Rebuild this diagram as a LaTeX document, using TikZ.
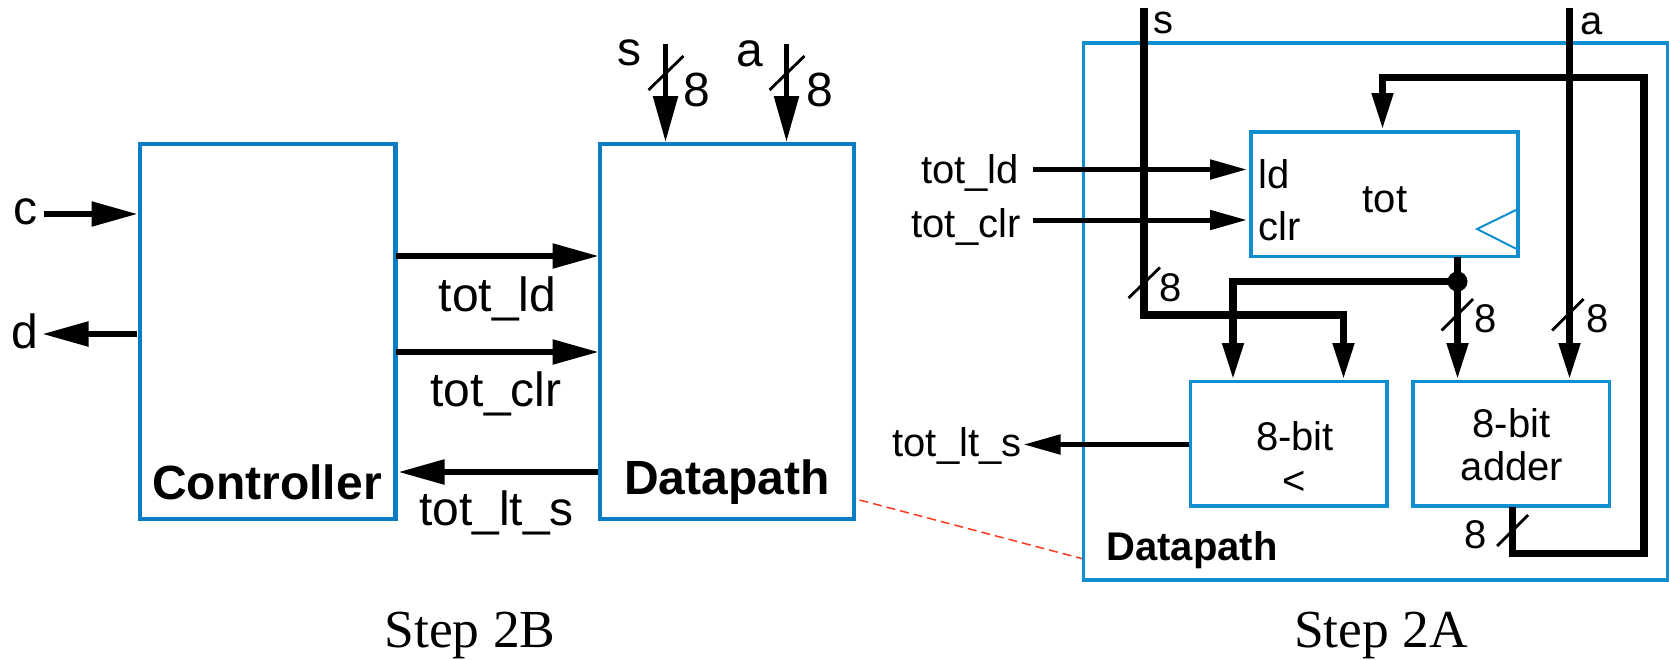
\documentclass[tikz,border=0pt]{standalone}
\usepackage{fontspec}
\setmainfont{Liberation Sans}
\newfontfamily\capfont{Liberation Serif}
\usetikzlibrary{arrows.meta}
\definecolor{bluebig}{HTML}{0A7DC4}
\definecolor{bluesmall}{HTML}{0F8FD0}
\definecolor{zoomred}{HTML}{FF3B1F}
\tikzset{
  x=1pt,y=-1pt,
  bigbox/.style={draw=bluebig,line width=4.4pt,inner sep=0pt,outer sep=0pt},
  smallbox/.style={draw=bluesmall,line width=3.5pt,inner sep=0pt,outer sep=0pt},
  lab/.style={inner sep=0pt,outer sep=0pt,font=\fontsize{48}{52}\selectfont},
  labb/.style={lab,font=\fontsize{48}{52}\selectfont\bfseries},
  slab/.style={inner sep=0pt,outer sep=0pt,font=\fontsize{40}{44}\selectfont},
  slabb/.style={slab,font=\fontsize{40}{44}\selectfont\bfseries},
  steplab/.style={inner sep=0pt,outer sep=0pt,font=\capfont\fontsize{53.5}{56}\selectfont},
  sig/.style={line width=5.5pt,-{Triangle[length=46pt,width=24pt]}},
  sigb/.style={line width=7.5pt,miter limit=10,-{Triangle[length=37pt,width=20pt]}},
  sigs/.style={line width=5pt,-{Triangle[length=37pt,width=19pt]}},
  busslash/.style={line width=2.8pt},
}
\begin{document}
\begin{tikzpicture}
\useasboundingbox (0,0) rectangle (1669,659);
% ---------- left: Step 2B ----------
\node[bigbox,minimum width=255.5pt,minimum height=375pt] (ctrl) at (267.75,331.5) {};
\node[bigbox,minimum width=254.5pt,minimum height=375pt] (dp) at (727,331.5) {};
\node[labb] (ctrltxt) at (267,482) {Controller};
\node[labb] (dptxt) at (727,482) {Datapath};
\node[lab] (cl) at (25,212) {c};
\node[lab] (dl) at (25,331) {d};
\node[lab] (sl) at (629,53) {s};
\node[lab] (al) at (750,54) {a};
\node[lab] (s8) at (697,90) {8};
\node[lab] (a8) at (820,90) {8};
\node[lab] (ldl) at (497.5,299) {tot\_ld};
\node[lab] (clrl) at (496,394) {tot\_clr};
\node[lab] (ltl) at (496.5,513) {tot\_lt\_s};
\node[steplab] (stepb) at (470,635) {Step 2B};
\coordinate (cs) at (44,214);
\coordinate (ce) at (137.5,214);
\coordinate (ds) at (137,334);
\coordinate (de) at (42.5,334);
\coordinate (ss) at (665.5,44);
\coordinate (se) at (665.5,142);
\coordinate (as) at (786.5,44);
\coordinate (ae) at (786.5,142);
\coordinate (lds) at (396,256);
\coordinate (lde) at (598.5,256);
\coordinate (clrs) at (396,352);
\coordinate (clre) at (598.5,352);
\coordinate (lts) at (597.5,472);
\coordinate (lte) at (398.5,472);
\draw[sig] (cs) -- (ce);
\draw[sig] (ds) -- (de);
\draw[sig] (ss) -- (se);
\draw[sig] (as) -- (ae);
\draw[sig] (lds) -- (lde);
\draw[sig] (clrs) -- (clre);
\draw[sig] (lts) -- (lte);
\coordinate (sa) at (648.5,90); \coordinate (sb) at (683.5,56);
\coordinate (aa) at (769.5,90); \coordinate (ab) at (804.5,56);
\draw[busslash] (sa) -- (sb);
\draw[busslash] (aa) -- (ab);
% ---------- zoom line ----------
\coordinate (za) at (859.5,500);
\coordinate (zb) at (1083.5,559);
\draw[zoomred,line width=1.5pt,dash pattern=on 9pt off 5pt] (za) -- (zb);
% ---------- right: Step 2A ----------
\node[smallbox,minimum width=584pt,minimum height=537pt] (outer) at (1375.5,311.5) {};
\node[smallbox,minimum width=267pt,minimum height=124.5pt] (tot) at (1384.25,194.25) {};
\node[smallbox,minimum width=196.5pt,minimum height=124.5pt] (lt) at (1288.75,443.75) {};
\node[smallbox,minimum width=196.5pt,minimum height=124.5pt] (add) at (1511,443.75) {};
\draw[bluesmall,line width=2pt] (1516,210) -- (1477,229) -- (1516,248.7);
\node[slab] (ldin) at (1274,174) {ld};
\node[slab] (clrin) at (1280,226) {clr};
\node[slab] (tottxt) at (1385,200) {tot};
\node[slab] (lt8) at (1295,436) {8-bit};
\node[slab] (ltop) at (1294,483) {<};
\node[slab] (add8) at (1511.5,423) {8-bit};
\node[slab] (addt) at (1512,466) {adder};
\node[slabb] (dptxtb) at (1192,550) {Datapath};
\node[slab] (rs) at (1163.5,23) {s};
\node[slab] (ra) at (1592,24) {a};
\node[slab] (rldl) at (970,173) {tot\_ld};
\node[slab] (rclrl) at (966,227) {tot\_clr};
\node[slab] (rltl) at (957,446) {tot\_lt\_s};
\node[slab] (n1) at (1171,288) {8};
\node[slab] (n2) at (1486,319) {8};
\node[slab] (n3) at (1597.5,319) {8};
\node[slab] (n4) at (1475.5,535) {8};
\node[steplab] (stepa) at (1381,635) {Step 2A};
\coordinate (rss) at (1144,7.5);
\coordinate (rsb) at (1144,315);
\coordinate (rsc) at (1343.5,315);
\coordinate (rse) at (1343.5,380);
\coordinate (ras) at (1569.5,7.5);
\coordinate (rae) at (1569.5,380);
\coordinate (fbs) at (1512.5,507);
\coordinate (fbb) at (1512.5,553.5);
\coordinate (fbc) at (1644,553.5);
\coordinate (fbd) at (1644,77.5);
\coordinate (fbf) at (1382.5,77.5);
\coordinate (fbe) at (1382.5,130);
\coordinate (outs) at (1457.5,257);
\coordinate (oute) at (1457.5,380);
\coordinate (bre) at (1233,380);
\coordinate (brc) at (1233,281.5);
\coordinate (rlds) at (1033,169.5);
\coordinate (rlde) at (1247,169.5);
\coordinate (rclrs) at (1033,220);
\coordinate (rclre) at (1247,220);
\coordinate (rlts) at (1189,444.5);
\coordinate (rlte) at (1023.5,444.5);
\node[circle,fill=black,inner sep=0pt,minimum size=20pt] (junc) at (1457.5,281.5) {};
\draw[sigb] (rss) -- (rsb) -- (rsc) -- (rse);
\draw[sigb] (ras) -- (rae);
\draw[sigb] (fbs) -- (fbb) -- (fbc) -- (fbd) -- (fbf) -- (fbe);
\draw[sigb] (outs) -- (oute);
\draw[sigb] (junc.center) -- (brc) -- (bre);
\draw[sigs] (rlds) -- (rlde);
\draw[sigs] (rclrs) -- (rclre);
\draw[sigs] (rlts) -- (rlte);
\coordinate (s1a) at (1128.5,298); \coordinate (s1b) at (1160,267.5);
\coordinate (s2a) at (1441.5,330.5); \coordinate (s2b) at (1473,299);
\coordinate (s3a) at (1552,330.5); \coordinate (s3b) at (1583.5,299);
\coordinate (s4a) at (1497,546); \coordinate (s4b) at (1528,515);
\draw[busslash] (s1a) -- (s1b);
\draw[busslash] (s2a) -- (s2b);
\draw[busslash] (s3a) -- (s3b);
\draw[busslash] (s4a) -- (s4b);
\end{tikzpicture}
\end{document}
